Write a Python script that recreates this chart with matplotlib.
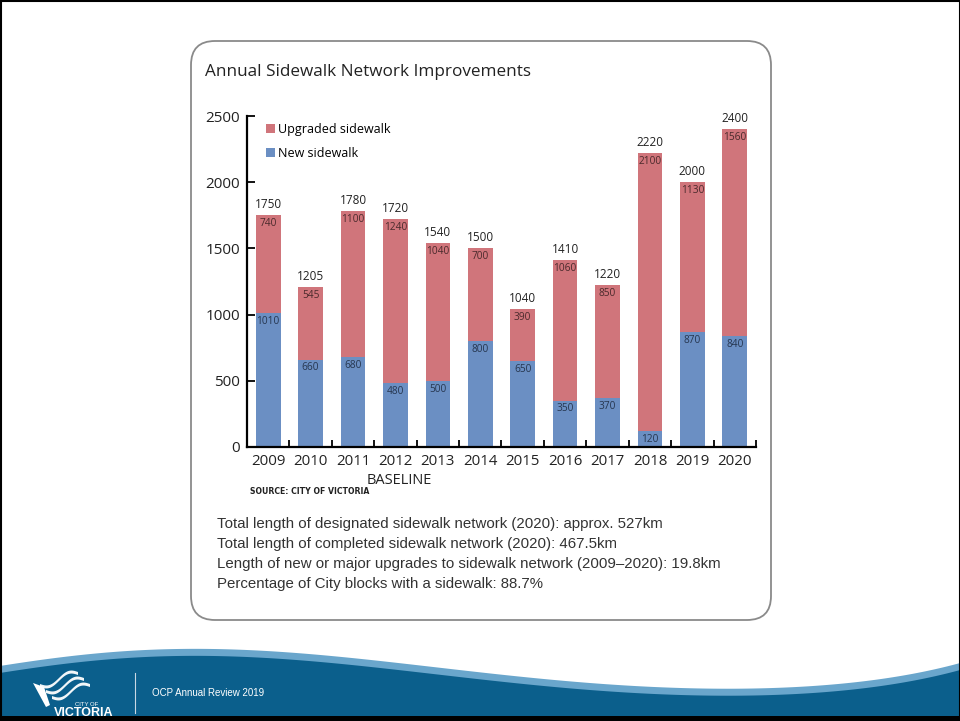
import numpy as np
import matplotlib
matplotlib.use("Agg")
import matplotlib.pyplot as plt
from matplotlib.patches import FancyBboxPatch, Rectangle, Polygon

years = ['2009', '2010', '2011', '2012', '2013', '2014', '2015', '2016', '2017', '2018', '2019', '2020']
new_sidewalk = [1010, 660, 680, 480, 500, 800, 650, 350, 370, 120, 870, 840]
upgraded_sidewalk = [740, 545, 1100, 1240, 1040, 700, 390, 1060, 850, 2100, 1130, 1560]
totals = [1750, 1205, 1780, 1720, 1540, 1500, 1040, 1410, 1220, 2220, 2000, 2400]
y_ticks = [0, 500, 1000, 1500, 2000, 2500]

notes = [
    'Total length of designated sidewalk network (2020): approx. 527km',
    'Total length of completed sidewalk network (2020): 467.5km',
    'Length of new or major upgrades to sidewalk network (2009\u20132020): 19.8km',
    'Percentage of City blocks with a sidewalk: 88.7%',
]

RED = '#d0757b'
BLUE = '#6b8fc3'
NAVY = '#0b5f8c'
LIGHT = '#6aa6cc'
CHART_FONT = ['Open Sans', 'DejaVu Sans']
BODY_FONT = ['Liberation Sans', 'DejaVu Sans']

W, H = 960, 721
fig = plt.figure(figsize=(9.6, 7.21), dpi=100)

# background / slide decoration in pixel coordinates
bg = fig.add_axes([0, 0, 1, 1], zorder=0)
bg.set_xlim(0, W)
bg.set_ylim(H, 0)
bg.axis('off')

box = FancyBboxPatch((191, 41), 580, 579, boxstyle='round,pad=0,rounding_size=24',
                     facecolor='white', edgecolor='#8a8a8a', linewidth=1.3)
bg.add_patch(box)

# footer wave
wx = [0, 100, 200, 320, 480, 640, 740, 860, 960]
wy = [666, 653, 649, 655, 672, 687, 688, 682, 663]
coef = np.polyfit(wx, wy, 6)
xs = np.linspace(0, W, 300)
top = np.polyval(coef, xs)
light_poly = np.column_stack([np.r_[xs, W, 0], np.r_[top, H, H]])
bg.add_patch(Polygon(light_poly, closed=True, facecolor=LIGHT, edgecolor='none'))
dark_poly = np.column_stack([np.r_[xs, W, 0], np.r_[top + 7, H, H]])
bg.add_patch(Polygon(dark_poly, closed=True, facecolor=NAVY, edgecolor='none'))

# logo
bg.add_patch(Polygon([(33, 683), (44, 687), (50, 705), (46, 707)], closed=True, facecolor='white', edgecolor='none'))
for dy, x0 in [(0, 40), (6, 46), (12, 52)]:
    sx = np.linspace(0, 1, 30)
    upper = np.column_stack([x0 + 38 * sx, 684 + dy - 12 * sx + 4 * np.sin(sx * np.pi * 2)])
    lower = np.column_stack([x0 + 38 * sx[::-1], 687 + dy - 12 * sx[::-1] + 4 * np.sin(sx[::-1] * np.pi * 2)])
    bg.add_patch(Polygon(np.vstack([upper, lower]), closed=True, facecolor='white', edgecolor='none', alpha=0.95))
bg.text(87, 705, 'CITY OF', color='white', fontsize=4.3, ha='center', va='center', family=BODY_FONT)
bg.text(84, 713, 'VICTORIA', color='white', fontsize=9, fontweight='bold', ha='center', va='center', family=BODY_FONT)
bg.plot([135, 135], [673, 713], color='#c9d8e4', linewidth=0.8)
bg.text(152, 693, 'OCP Annual Review 2019', color='white', fontsize=7, ha='left', va='center', family=BODY_FONT)

# slide frame
bg.add_patch(Rectangle((0.5, 0.5), W - 1, H - 1, facecolor='none', edgecolor='black', linewidth=1.5))
bg.add_patch(Rectangle((0, 716), W, 5, facecolor='black', edgecolor='none'))

# title and texts
bg.text(205, 72, 'Annual Sidewalk Network Improvements', fontsize=12.3, color='#222222',
        ha='left', va='center', family=CHART_FONT)
bg.text(250, 492, 'SOURCE: CITY OF VICTORIA', fontsize=5.6, color='#222222', fontweight='bold',
        ha='left', va='center', family=['Liberation Sans Narrow', 'DejaVu Sans'])
for i, line in enumerate(notes):
    bg.text(217, 524 + 20 * i, line, fontsize=10.8, color='#333333', ha='left', va='center', family=BODY_FONT)

# chart
ax = fig.add_axes([247 / W, (H - 447) / H, (756 - 247) / W, (447 - 116) / H], zorder=1)
ax.patch.set_alpha(0)
x = np.arange(len(years))
b_new = ax.bar(x, new_sidewalk, width=0.58, color=BLUE, label='New sidewalk')
b_up = ax.bar(x, upgraded_sidewalk, width=0.58, bottom=new_sidewalk, color=RED, label='Upgraded sidewalk')

for i in range(len(years)):
    ax.annotate(str(new_sidewalk[i]), (x[i], new_sidewalk[i]), xytext=(0, -2), textcoords='offset points',
                ha='center', va='top', fontsize=7.3, color='#26364f', family=CHART_FONT)
    ax.annotate(str(upgraded_sidewalk[i]), (x[i], totals[i]), xytext=(0, -2), textcoords='offset points',
                ha='center', va='top', fontsize=7.3, color='#4a2a2c', family=CHART_FONT)
    ax.annotate(str(totals[i]), (x[i], totals[i]), xytext=(0, 3), textcoords='offset points',
                ha='center', va='bottom', fontsize=8.5, color='#222222', family=CHART_FONT)

ax.set_xlim(-0.5, 11.5)
ax.set_ylim(0, 2500)
ax.set_yticks(y_ticks)
ax.set_xticks(x)
ax.set_xticklabels(years, family=CHART_FONT, fontsize=10.8, color='#222222')
ax.set_yticklabels([str(v) for v in y_ticks], family=CHART_FONT, fontsize=11, color='#222222')
ax.set_xticks(np.arange(0.5, 12, 1), minor=True)
ax.tick_params(axis='x', which='major', length=0, pad=5)
ax.tick_params(axis='x', which='minor', direction='in', length=5, width=1.3, color='black')
ax.tick_params(axis='y', direction='in', length=6, width=1.3, color='black', pad=5)
for s in ['top', 'right']:
    ax.spines[s].set_visible(False)
for s in ['left', 'bottom']:
    ax.spines[s].set_linewidth(1.6)
    ax.spines[s].set_color('black')

ax.text(3.1, -250, 'BASELINE', ha='center', va='center', fontsize=10.5, color='#222222', family=CHART_FONT)

leg = ax.legend(handles=[b_up, b_new], loc='upper left', bbox_to_anchor=(19 / 509, 1 - 7 / 331),
                frameon=False, handlelength=0.7, handleheight=0.7, handletextpad=0.3,
                labelspacing=0.85, borderaxespad=0, borderpad=0,
                prop={'family': CHART_FONT, 'size': 9})

fig.savefig('out.png', dpi=100)
